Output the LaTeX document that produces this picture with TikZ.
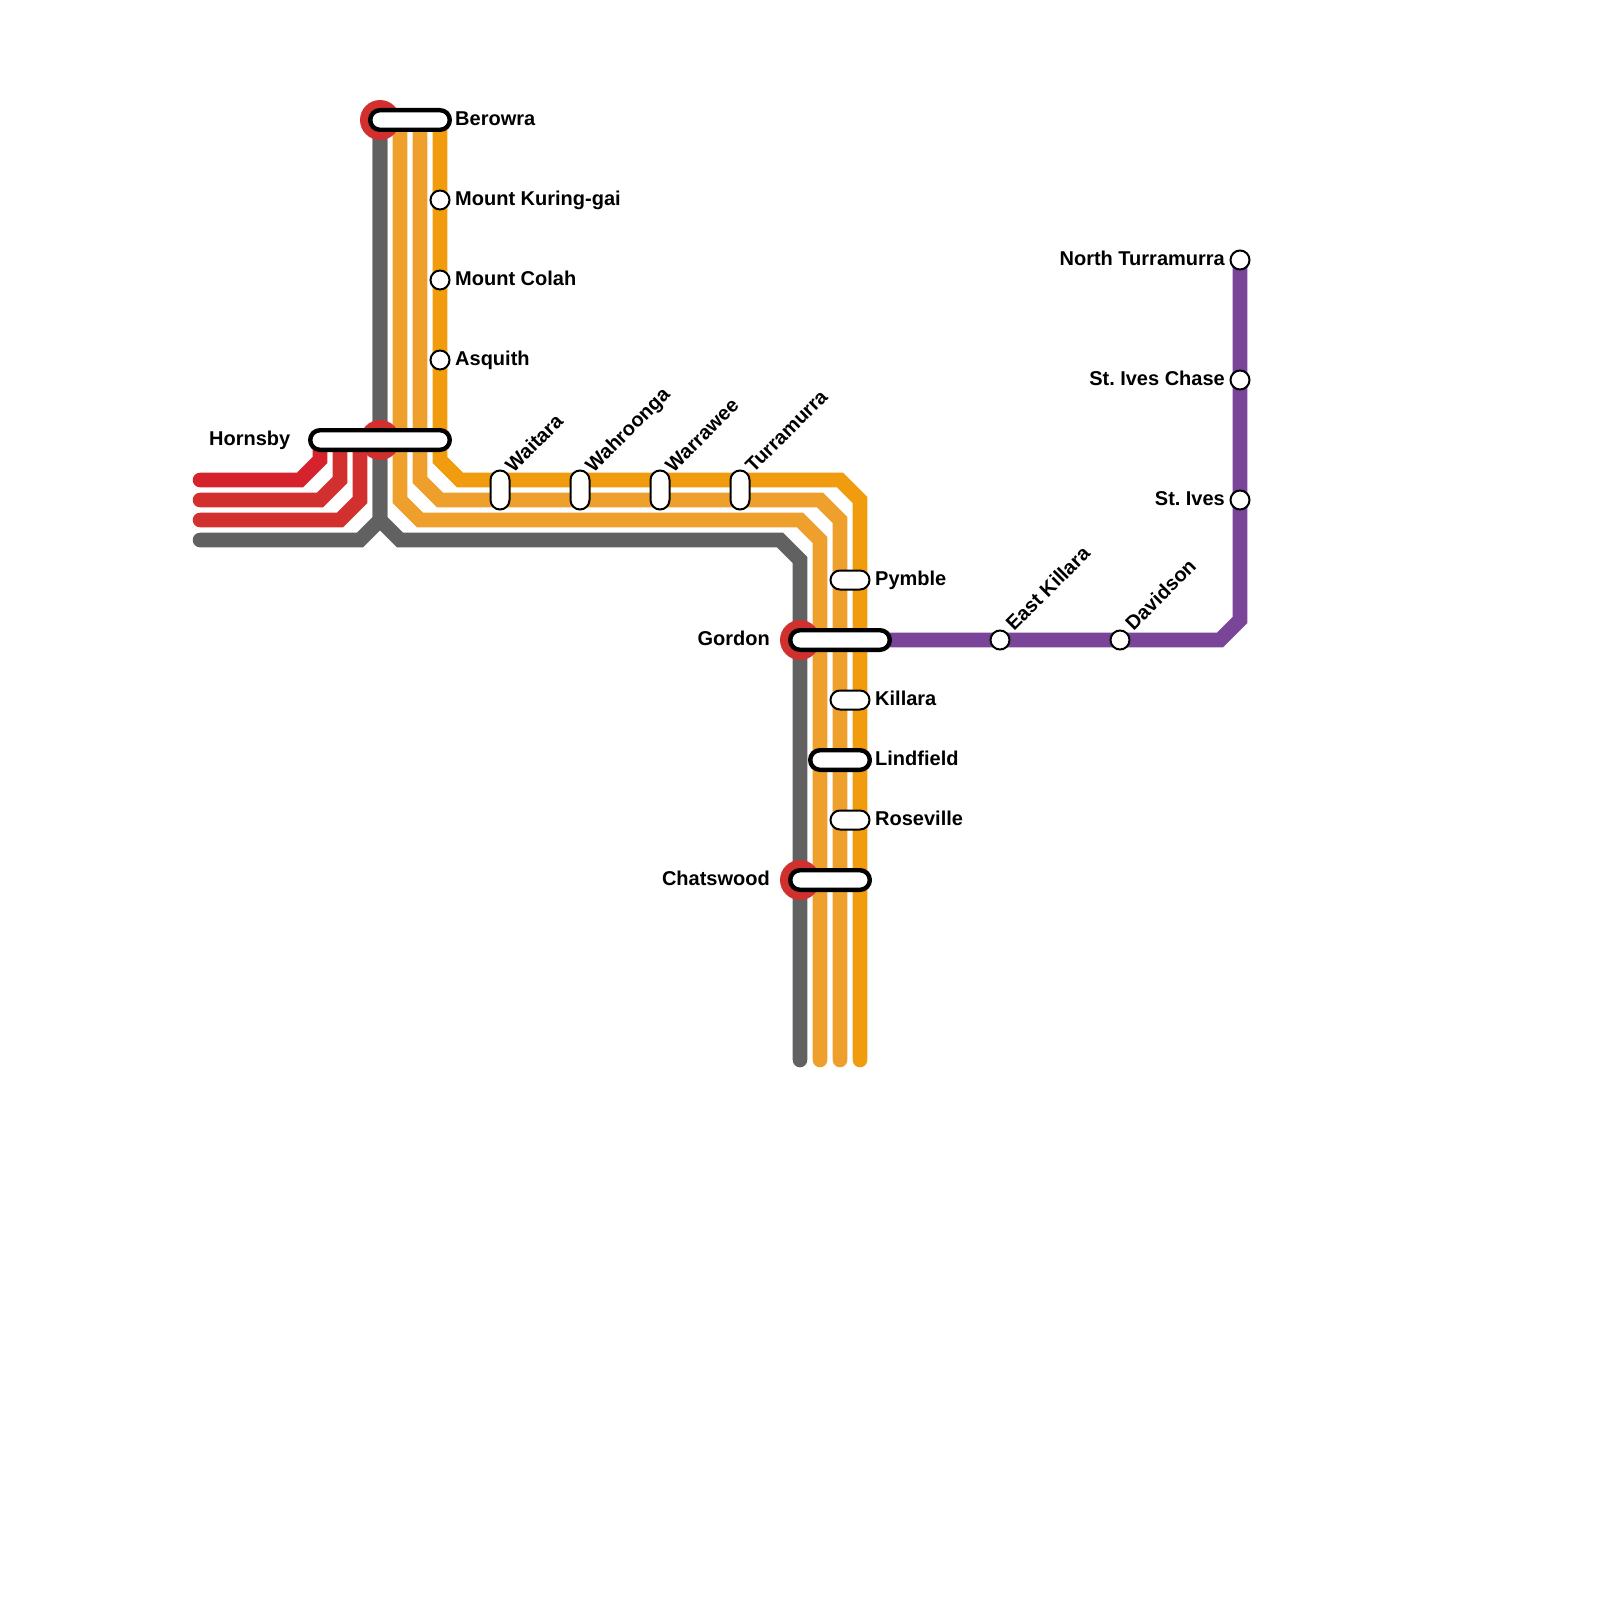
\documentclass[tikz,border=0pt]{standalone}
\usepackage{fontspec}
\setmainfont{Liberation Sans}
\definecolor{redA}{HTML}{D6222C}
\definecolor{redB}{HTML}{D1302E}
\definecolor{orangeA}{HTML}{F19C0E}
\definecolor{orangeB}{HTML}{EE9F2C}
\definecolor{greyL}{HTML}{616161}
\definecolor{purpleL}{HTML}{7A4599}
\tikzset{
  track/.style={line width=14.6pt,line cap=round,line join=miter},
  hub/.style={circle,fill=redB,minimum size=40pt,inner sep=0pt,outer sep=0pt},
  bigpill/.style={draw=black,fill=white,line width=4.4pt,rounded corners=9.8pt,minimum height=19.6pt,inner sep=0pt,outer sep=0pt},
  thinpill/.style={draw=black,fill=white,line width=2pt,rounded corners=9.5pt,minimum height=19pt,minimum width=39pt,inner sep=0pt,outer sep=0pt},
  uppill/.style={thinpill,minimum height=39pt,minimum width=19pt},
  stop/.style={circle,draw=black,fill=white,line width=2pt,minimum size=19pt,inner sep=0pt,outer sep=0pt},
  lab/.style={font=\fontsize{20}{24}\bfseries\selectfont,text=black,inner sep=0pt},
  labR/.style={lab,anchor=base west},
  labL/.style={lab,anchor=base east},
  labD/.style={lab,anchor=base west,rotate=45}
}
\begin{document}
\begin{tikzpicture}[x=1pt,y=-1pt]
\useasboundingbox (0,0) rectangle (1600,1600);
\fill[white] (0,0) rectangle (1600,1600);
% line ends
\coordinate (rA) at (200,480); \coordinate (rAe) at (320,440);
\coordinate (rB) at (200,500); \coordinate (rBe) at (340,440);
\coordinate (rC) at (200,520); \coordinate (rCe) at (360,440);
\coordinate (gW) at (200,540); \coordinate (gT) at (380,120); \coordinate (gS) at (800,1060);
\coordinate (oAt) at (400,120); \coordinate (oAb) at (820,1060);
\coordinate (oBt) at (420,120); \coordinate (oBb) at (840,1060);
\coordinate (oCt) at (440,120); \coordinate (oCb) at (860,1060);
\coordinate (pW) at (880,640); \coordinate (pN) at (1240,260);
% tracks
\draw[track,redA] (rA) -- ++(100,0) -- ++(20,-20) -- (rAe);
\draw[track,redB] (rB) -- ++(120,0) -- ++(20,-20) -- (rBe);
\draw[track,redB] (rC) -- ++(140,0) -- ++(20,-20) -- (rCe);
\draw[track,greyL] (gW) -- ++(160,0) -- ++(20,-20) -- (gT);
\draw[track,greyL] (gT) -- ++(0,400) -- ++(20,20) -- ++(380,0) -- ++(20,20) -- (gS);
\draw[track,orangeB] (oAt) -- ++(0,380) -- ++(20,20) -- ++(380,0) -- ++(20,20) -- (oAb);
\draw[track,orangeB] (oBt) -- ++(0,360) -- ++(20,20) -- ++(380,0) -- ++(20,20) -- (oBb);
\draw[track,orangeA] (oCt) -- ++(0,340) -- ++(20,20) -- ++(380,0) -- ++(20,20) -- (oCb);
\draw[track,purpleL] (pW) -- ++(340,0) -- ++(20,-20) -- (pN);
% interchange discs
\node[hub] (hBerowra) at (380,120) {};
\node[hub] (hHornsby) at (380,440) {};
\node[hub] (hGordon) at (800,640) {};
\node[hub] (hChatswood) at (800,880) {};
% stations
\node[bigpill,minimum width=79.6pt] (sBerowra) at (410,120) {};
\node[bigpill,minimum width=139.6pt] (sHornsby) at (380,440) {};
\node[bigpill,minimum width=99.6pt] (sGordon) at (840,640) {};
\node[bigpill,minimum width=59.6pt] (sLindfield) at (840,760) {};
\node[bigpill,minimum width=79.6pt] (sChatswood) at (830,880) {};
\node[stop] (sKuring) at (440,200) {};
\node[stop] (sColah) at (440,280) {};
\node[stop] (sAsquith) at (440,360) {};
\node[uppill] (sWaitara) at (500,490) {};
\node[uppill] (sWahroonga) at (580,490) {};
\node[uppill] (sWarrawee) at (660,490) {};
\node[uppill] (sTurramurra) at (740,490) {};
\node[thinpill] (sPymble) at (850,580) {};
\node[thinpill] (sKillara) at (850,700) {};
\node[thinpill] (sRoseville) at (850,820) {};
\node[stop] (sEastKillara) at (1000,640) {};
\node[stop] (sDavidson) at (1120,640) {};
\node[stop] (sNorthT) at (1240,260) {};
\node[stop] (sChase) at (1240,380) {};
\node[stop] (sIves) at (1240,500) {};
% labels
\node[labR] (tBerowra) at (455,125) {Berowra};
\node[labR] (tKuring) at (455,205) {Mount Kuring-gai};
\node[labR] (tColah) at (455,285) {Mount Colah};
\node[labR] (tAsquith) at (455,365) {Asquith};
\node[labL] (tHornsby) at (290.5,445) {Hornsby};
\node[labD] (tWaitara) at (513.5,473.5) {Waitara};
\node[labD] (tWahroonga) at (593.5,473.5) {Wahroonga};
\node[labD] (tWarrawee) at (673.5,473.5) {Warrawee};
\node[labD] (tTurramurra) at (753.5,473.5) {Turramurra};
\node[labR] (tPymble) at (875,585) {Pymble};
\node[labL] (tGordon) at (770,645) {Gordon};
\node[labR] (tKillara) at (875,705) {Killara};
\node[labR] (tLindfield) at (875,765) {Lindfield};
\node[labR] (tRoseville) at (875,825) {Roseville};
\node[labL] (tChatswood) at (770,885) {Chatswood};
\node[labD] (tEastKillara) at (1014,632) {East Killara};
\node[labD] (tDavidson) at (1133.5,631.5) {Davidson};
\node[labL] (tNorthT) at (1225,265) {North Turramurra};
\node[labL] (tChase) at (1225,385) {St.\kern-2pt{} Ives Chase};
\node[labL] (tIves) at (1225,505) {St.\kern-2pt{} Ives};
\end{tikzpicture}
\end{document}
